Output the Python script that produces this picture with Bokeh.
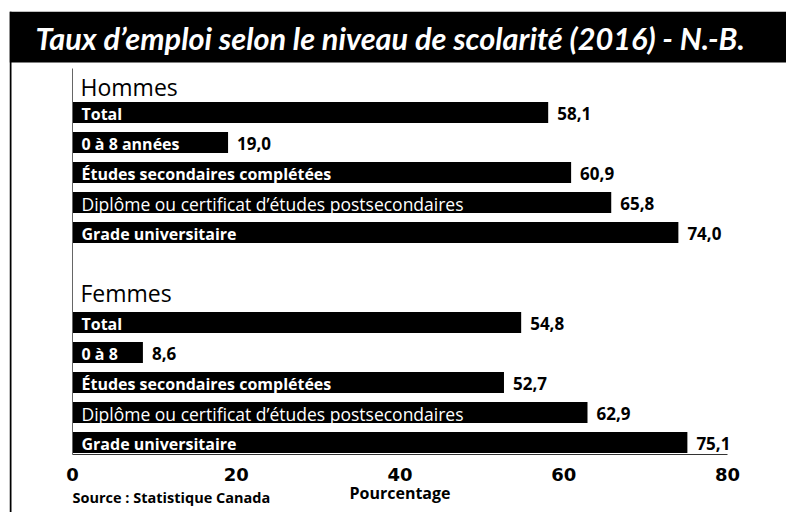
from bokeh.plotting import figure
from bokeh.models import Range1d, Label, ColumnDataSource, FixedTicker, BoxAnnotation, Span
from bokeh.embed import file_html
from bokeh.resources import INLINE
from bokeh.core.properties import value

# ---- data ----
title_text = "Taux d’emploi selon le niveau de scolarité (2016) - N.-B."
groups = ["Hommes", "Femmes"]
labels_hommes = ["Total", "0 à 8 années", "Études secondaires complétées",
                 "Diplôme ou certificat d’études postsecondaires", "Grade universitaire"]
labels_femmes = ["Total", "0 à 8", "Études secondaires complétées",
                 "Diplôme ou certificat d’études postsecondaires", "Grade universitaire"]
hommes = [58.1, 19.0, 60.9, 65.8, 74.0]
femmes = [54.8, 8.6, 52.7, 62.9, 75.1]
x_ticks = [0, 20, 40, 60, 80]
x_label = "Pourcentage"
source_text = "Source : Statistique Canada"

FONT = "Open Sans"
TITLE_FONT = "Lato"

# ---- geometry (pixels -> data) ----
W, H = 786, 512
PX_PER_UNIT = 655 / 80.0      # x scale
ROW_PX = 30.0                 # row pitch
X0_PAGE = 72                  # page x of value 0
ROW0_PAGE = 112               # page y of first bar row
FRAME_L, FRAME_R, FRAME_T, FRAME_B = 9, 786, 11, 512


def xd(px):
    return (px - X0_PAGE) / PX_PER_UNIT


def yd(py):
    return (py - ROW0_PAGE) / ROW_PX


rows_h = list(range(len(hommes)))
rows_f = [r + len(hommes) + 2 for r in rows_h]
label_styles = ["bold", "bold", "bold", "normal", "bold"]
label_sizes = ["16px", "16px", "16px", "17.5px", "16px"]

src = ColumnDataSource(dict(
    y=rows_h + rows_f,
    v=hommes + femmes,
    lab=labels_hommes + labels_femmes,
    txt=[f"{v:.1f}".replace(".", ",") for v in hommes + femmes],
    style=label_styles + label_styles,
    size=label_sizes + label_sizes,
))

p = figure(width=W, height=H,
           x_range=Range1d(xd(FRAME_L), xd(FRAME_R)),
           y_range=Range1d(yd(FRAME_B), yd(FRAME_T)),
           toolbar_location=None, output_backend="svg",
           min_border_left=FRAME_L, min_border_right=0,
           min_border_top=FRAME_T, min_border_bottom=0,
           border_fill_color="white", background_fill_color="white")
p.grid.visible = False
p.outline_line_color = None

# title bar
p.add_layout(BoxAnnotation(bottom=yd(62), fill_color="black", fill_alpha=1.0,
                           line_color=None))
p.add_layout(Label(x=xd(35), y=yd(38), text=title_text, text_color="white",
                   text_font=TITLE_FONT, text_font_size="30.7px",
                   text_font_style="bold italic", text_baseline="middle"))
# left frame border
p.add_layout(Span(location=xd(10), dimension="height", line_color="black",
                  line_width=2))

# bars
p.hbar(y="y", left=0, right="v", height=0.7, source=src, fill_color="black",
       line_color=None)
p.text(x=0, y="y", text="lab", source=src, x_offset=9, y_offset=1, text_color="white",
       text_font=value(FONT), text_font_size="size", text_font_style="style",
       text_baseline="middle")
p.text(x="v", y="y", text="txt", source=src, x_offset=9, y_offset=1, text_color="black",
       text_font=value(FONT), text_font_size="17px", text_font_style="bold",
       text_baseline="middle")
p.text(x=[0, 0], y=[rows_h[0] - 0.85, rows_f[0] - 0.97], text=groups, x_offset=8,
       text_font=value(FONT), text_font_size="23px", text_baseline="middle",
       text_color="black")

# x axis (fixed inside the frame)
p.xaxis.fixed_location = yd(454)
p.xaxis.bounds = (x_ticks[0], x_ticks[-1])
p.xaxis.ticker = FixedTicker(ticks=x_ticks)
p.xaxis.major_tick_line_color = None
p.xaxis.minor_tick_line_color = None
p.xaxis.major_label_text_font = "DejaVu Sans"
p.xaxis.major_label_text_font_style = "bold"
p.xaxis.major_label_text_font_size = "18px"
p.xaxis.major_label_text_color = "black"
p.xaxis.major_label_standoff = 7
p.xaxis.axis_line_color = "#333333"
p.xaxis.axis_label = x_label
p.xaxis.axis_label_text_font = FONT
p.xaxis.axis_label_text_font_style = "bold"
p.xaxis.axis_label_text_font_size = "16px"
p.xaxis.axis_label_text_color = "black"
p.xaxis.axis_label_standoff = -2

# y axis: only a thin line at x = 0
p.yaxis.fixed_location = 0
p.yaxis.bounds = (yd(68), yd(454))
p.yaxis.ticker = FixedTicker(ticks=[])
p.yaxis.major_tick_line_color = None
p.yaxis.minor_tick_line_color = None
p.yaxis.major_label_text_font_size = "0px"
p.yaxis.axis_line_color = "#666666"

p.add_layout(Label(x=0, y=yd(497), text=source_text, text_font=FONT,
                   text_font_size="14.5px", text_font_style="bold",
                   text_baseline="middle", text_color="black"))

open("out.html", "w").write(file_html(p, INLINE))
